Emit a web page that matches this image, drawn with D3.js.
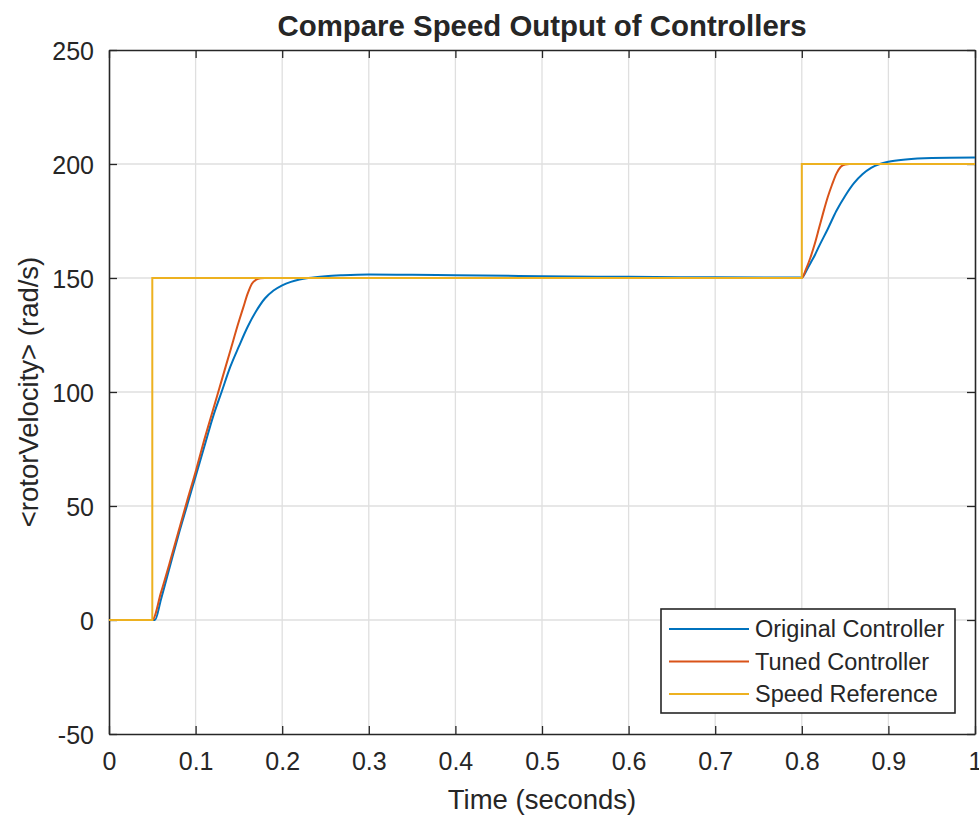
<!DOCTYPE html>
<html><head><meta charset="utf-8">
<script src="https://cdn.jsdelivr.net/npm/d3@7"></script>
<style>body{margin:0;background:#fff}svg{display:block}text{font-family:"Liberation Sans",Arial,sans-serif;fill:#262626}</style>
</head><body><svg id="c" width="979" height="818"></svg>
<script>
const xTicks=[0,0.1,0.2,0.3,0.4,0.5,0.6,0.7,0.8,0.9,1];
const yTicks=[-50,0,50,100,150,200,250];
const seriesNames=["Original Controller","Tuned Controller","Speed Reference"];
const colors=["#0072BD","#D95319","#EDB120"];
const origT=[0,0.05,0.053,0.06,0.07,0.08,0.09,0.10,0.11,0.12,0.13,0.14,0.15,0.16,0.17,0.18,0.19,0.20,0.21,0.22,0.23,0.25,0.27,0.30,0.35,0.40,0.50,0.60,0.70,0.80,0.805,0.81,0.815,0.82,0.83,0.84,0.85,0.86,0.87,0.88,0.89,0.90,0.92,0.95,1.0];
const origV=[0,0,0,9,23,37,50,63,76,89,100,111,120,128.5,135.5,141,144.5,146.8,148.3,149.3,150,150.8,151.2,151.5,151.4,151.2,150.8,150.5,150.3,150.2,153,156.5,160,164,171.5,179.5,186,191.5,195.5,198.3,200,201,202,202.6,202.8];
const tunedT=[0,0.05,0.06,0.07,0.08,0.09,0.10,0.11,0.12,0.13,0.14,0.15,0.155,0.16,0.165,0.17,0.175,0.18,0.80,0.805,0.81,0.815,0.82,0.825,0.83,0.835,0.84,0.845,0.85,0.855,1.0];
const tunedV=[0,0,12,25,38.5,52,65,79,92,105,118,131,137,143,147.5,149.3,149.9,150,150,154,159,165,172,179,185.5,191,195.8,198.8,199.8,200,200];
const refT=[0,0.05,0.05,0.8,0.8,1.0];
const refV=[0,0,150,150,200,200];

const svg=d3.select("#c");
const L=109,R=975,T=50,B=734;
const x=d3.scaleLinear().domain([0,1]).range([L,R]);
const y=d3.scaleLinear().domain([-50,250]).range([B,T]);
const axisCol="#262626";
svg.append("g").selectAll("line").data(xTicks.slice(1,-1)).join("line")
 .attr("x1",d=>x(d)).attr("x2",d=>x(d)).attr("y1",T).attr("y2",B).attr("stroke","#dfdfdf").attr("stroke-width",1.3);
svg.append("g").selectAll("line").data(yTicks.slice(1,-1)).join("line")
 .attr("y1",d=>y(d)).attr("y2",d=>y(d)).attr("x1",L).attr("x2",R).attr("stroke","#dfdfdf").attr("stroke-width",1.3);
const fmt=d=>String(d);
const gx=svg.append("g").attr("transform",`translate(0,${B})`).call(d3.axisBottom(x).tickValues(xTicks).tickFormat(fmt).tickSizeInner(-8).tickSizeOuter(0).tickPadding(18));
const gxt=svg.append("g").attr("transform",`translate(0,${T})`).call(d3.axisTop(x).tickValues(xTicks).tickFormat("").tickSizeInner(-8).tickSizeOuter(0));
const gy=svg.append("g").attr("transform",`translate(${L},0)`).call(d3.axisLeft(y).tickValues(yTicks).tickFormat(fmt).tickSizeInner(-8).tickSizeOuter(0).tickPadding(15));
const gyr=svg.append("g").attr("transform",`translate(${R},0)`).call(d3.axisRight(y).tickValues(yTicks).tickFormat("").tickSizeInner(-8).tickSizeOuter(0));
[gx,gxt,gy,gyr].forEach(g=>{g.select(".domain").attr("stroke",axisCol).attr("stroke-width",1.6);g.selectAll(".tick line").attr("stroke",axisCol).attr("stroke-width",1.3);g.selectAll("text").attr("font-size",25).attr("fill","#262626").attr("font-family","Liberation Sans, Arial, sans-serif");});
gx.selectAll("text").attr("dy","0.71em");
gy.selectAll("text").attr("dy","0.36em");
const line=d3.line().x(d=>x(d[0])).y(d=>y(d[1]));
const series=[d3.zip(origT,origV),d3.zip(tunedT,tunedV),d3.zip(refT,refV)];
svg.append("clipPath").attr("id","clip").append("rect").attr("x",L).attr("y",T).attr("width",R-L).attr("height",B-T);
const gl=svg.append("g").attr("clip-path","url(#clip)");
series.forEach((s,i)=>{
 const gen=i<2?d3.line().x(d=>x(d[0])).y(d=>y(d[1])).curve(d3.curveMonotoneX):line;
 gl.append("path").datum(s).attr("d",gen).attr("fill","none").attr("stroke",colors[i]).attr("stroke-width",2);
});
svg.append("text").attr("x",(L+R)/2).attr("y",36).attr("text-anchor","middle").attr("font-size",29.4).attr("font-weight","bold").attr("fill","#000").text("Compare Speed Output of Controllers");
svg.append("text").attr("x",(L+R)/2).attr("y",809).attr("text-anchor","middle").attr("font-size",27.5).text("Time (seconds)");
svg.append("text").attr("transform",`translate(38,${(T+B)/2}) rotate(-90)`).attr("text-anchor","middle").attr("font-size",27.5).text("<rotorVelocity> (rad/s)");
const lg=svg.append("g");
lg.append("rect").attr("x",661).attr("y",609).attr("width",294).attr("height",104).attr("fill","#fff").attr("stroke",axisCol).attr("stroke-width",1.6);
seriesNames.forEach((n,i)=>{
 const yy=629+i*32.5;
 lg.append("line").attr("x1",669).attr("x2",749).attr("y1",yy).attr("y2",yy).attr("stroke",colors[i]).attr("stroke-width",2);
 lg.append("text").attr("x",755).attr("y",yy).attr("dy","0.36em").attr("font-size",23.5).text(n);
});
</script></body></html>
